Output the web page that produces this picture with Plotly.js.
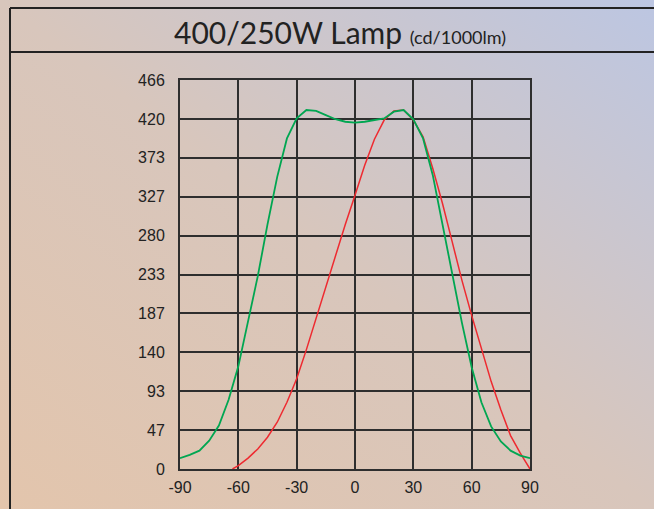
<!DOCTYPE html>
<html>
<head>
<meta charset="utf-8">
<script src="https://cdn.plot.ly/plotly-3.0.1.min.js"></script>
<style>
html,body{margin:0;padding:0;width:654px;height:509px;overflow:hidden;}
body{background:linear-gradient(to top right,#e3c5ac 0%,#d8c6bc 50%,#bcc6e2 100%);}
#chart{width:654px;height:509px;}
</style>
</head>
<body>
<div id="chart"></div>
<script>
const greenAngles = [-90,-85,-80,-75,-70,-65,-60,-55,-50,-45,-40,-35,-30,-25,-20,-15,-10,-5,0,5,10,15,20,25,30,35,40,45,50,55,60,65,70,75,80,85,90];
const greenValues = [13,17,22,34,52,83,123,176,231,293,350,396,420,430,429,424,419,416,415,416,418,420,428,430,419,396,352,293,230,175,122,80,51,33,22,16,13];
const redAngles = [-63,-60,-55,-50,-45,-40,-35,-30,-25,-20,-15,-10,-5,0,5,10,15,20,25,30,35,40,45,50,55,60,65,70,75,80,85,90];
const redValues = [0,4,13,24,38,56,80,108,143,181,220,257,293,328,364,395,418,429,430,418,398,360,318,272,226,184,143,105,71,40,19,0];
const xTicks = [-90,-60,-30,0,30,60,90];
const yTickLabels = ['0','47','93','140','187','233','280','327','373','420','466'];
const yTickVals = yTickLabels.map((t,i)=> i*46.6);

const lineCol = '#2e2e2e';
const traces = [
  {x: redAngles, y: redValues, mode:'lines', line:{color:'#ee2a30', width:1.5}, hoverinfo:'skip'},
  {x: greenAngles, y: greenValues, mode:'lines', line:{color:'#00a651', width:1.8}, hoverinfo:'skip'}
];
const px = v => (v-180)/350;
const py = v => (469-v)/389;
const layout = {
  width:654, height:509,
  margin:{l:180, r:124, t:80, b:40, pad:0},
  paper_bgcolor:'rgba(0,0,0,0)', plot_bgcolor:'rgba(0,0,0,0)',
  showlegend:false,
  font:{family:'Liberation Sans, Arial, sans-serif', size:16, color:'#222'},
  xaxis:{range:[-90,90], tickvals:xTicks, ticktext:xTicks.map(String), showgrid:true, gridcolor:lineCol, gridwidth:2,
    zeroline:false, showline:true, mirror:true, linecolor:lineCol, linewidth:2, ticks:'', fixedrange:true,
    ticklabelstandoff:3, tickfont:{size:16, color:'#222'}},
  yaxis:{range:[0,466], tickvals:yTickVals, ticktext:yTickLabels, showgrid:true, gridcolor:lineCol, gridwidth:2,
    zeroline:false, showline:true, mirror:true, linecolor:lineCol, linewidth:2, ticks:'', fixedrange:true,
    ticklabelstandoff:10, tickfont:{size:16, color:'#222'}},
  shapes:[
    {type:'line', xref:'paper', yref:'paper', x0:px(10), x1:px(660), y0:py(8), y1:py(8), line:{color:'#222', width:2}},
    {type:'line', xref:'paper', yref:'paper', x0:px(10), x1:px(660), y0:py(52), y1:py(52), line:{color:'#222', width:2}},
    {type:'line', xref:'paper', yref:'paper', x0:px(10), x1:px(10), y0:py(8), y1:py(515), line:{color:'#222', width:2}}
  ],
  annotations:[
    {xref:'paper', yref:'paper', x:px(340), y:py(32), xanchor:'center', yanchor:'middle', showarrow:false,
     text:"400/250W Lamp <span style='font-size:18px'>(cd/1000lm)</span>",
     font:{family:'Lato, Open Sans, sans-serif', size:30, color:'#222'}}
  ]
};
Plotly.newPlot('chart', traces, layout, {staticPlot:true, displayModeBar:false});
</script>
</body>
</html>
